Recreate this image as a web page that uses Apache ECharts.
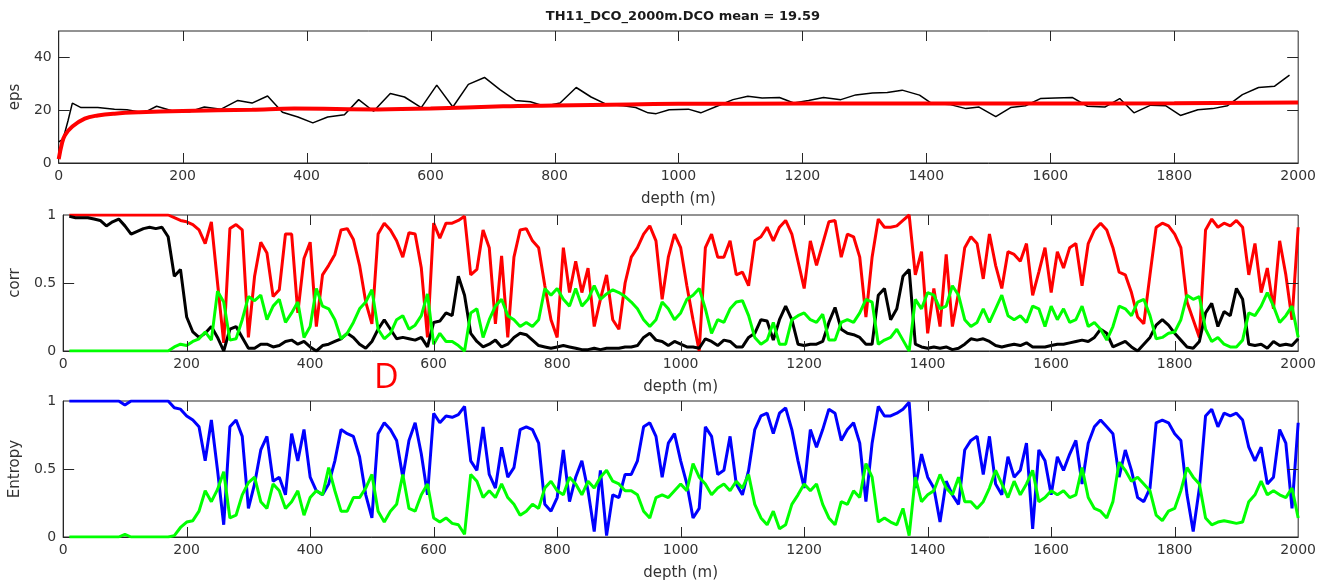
<!DOCTYPE html>
<html>
<head>
<meta charset="utf-8">
<script src="https://cdn.jsdelivr.net/npm/echarts@6/dist/echarts.min.js"></script>
<style>
  html, body { margin: 0; padding: 0; background: #fff; }
  #chart { width: 1319px; height: 587px; }
</style>
</head>
<body>
<div id="chart"></div>
<script>
// eps panel: raw values (black) and running mean (red)
const epsDepth = [0, 7, 15, 22, 36, 63, 90, 110, 137, 158, 184, 211, 235, 262, 289, 312, 337, 361, 386, 410,
  434, 461, 484, 508, 535, 558, 585, 610, 636, 661, 687, 712, 737, 761, 784, 809, 835, 859, 884, 911,
  931, 951, 964, 985, 1016, 1036, 1064, 1088, 1112, 1135, 1163, 1186, 1210, 1234, 1262, 1286, 1313, 1337, 1361, 1389,
  1409, 1437, 1464, 1485, 1512, 1536, 1560, 1584, 1608, 1636, 1660, 1688, 1712, 1735, 1762, 1786, 1810, 1838, 1862, 1886,
  1910, 1936, 1962, 1986];
const epsVal = [8, 9, 16, 22.7, 21, 21, 20.4, 20.2, 19, 21.5, 19.7, 19.4, 21.2, 20.4, 23.7, 22.7, 25.4, 19.2, 17.4, 15.2,
  17.4, 18.3, 24, 19.6, 26.3, 25, 21, 29.5, 21.2, 29.8, 32.4, 27.8, 23.7, 23.2, 21.5, 22.7, 28.6, 25, 22.2, 21.7,
  21, 19, 18.7, 20.2, 20.4, 19, 21.7, 24, 25.3, 24.6, 24.8, 22.7, 23.7, 24.8, 24, 25.8, 26.5, 26.7, 27.6, 25.7,
  22.5, 22.2, 20.6, 21.2, 17.6, 21, 21.7, 24.4, 24.6, 24.8, 21.5, 21.2, 24.4, 19, 21.9, 21.7, 18, 20.2, 20.6, 21.7,
  25.9, 28.6, 29.1, 33.3];
const epsMeanDepth = [0, 5, 10, 22, 42, 63, 90, 130, 200, 312, 380, 515, 600, 717, 800, 920, 1000, 1200, 1400, 1600, 1800, 2000];
const epsMeanVal = [1.5, 7.2, 10.5, 13.8, 16.8, 18, 18.7, 19.2, 19.7, 20.2, 20.6, 20.3, 20.6, 21.5, 21.8, 22.2, 22.4, 22.5, 22.5, 22.5, 22.6, 22.9];

// corr / entropy panels are sampled every 10 m, from 10 m to 2000 m (one row = 100 m)
const corrRed = [
  1, 1, 1, 1, 1, 1, 1, 1, 1, 1,
  1, 1, 1, 1, 1, 1, 1, 0.98, 0.96, 0.95,
  0.93, 0.89, 0.79, 0.95, 0.5, 0.06, 0.9, 0.93, 0.89, 0.1,
  0.55, 0.8, 0.72, 0.4, 0.45, 0.86, 0.86, 0.28, 0.68, 0.8,
  0.18, 0.56, 0.63, 0.71, 0.89, 0.9, 0.82, 0.63, 0.36, 0.2,
  0.86, 0.94, 0.89, 0.81, 0.69, 0.87, 0.86, 0.61, 0.1, 0.94,
  0.83, 0.94, 0.94, 0.96, 0.99, 0.56, 0.6, 0.89, 0.76, 0.2,
  0.7, 0.1, 0.69, 0.89, 0.9, 0.81, 0.76, 0.48, 0.23, 0.1,
  0.76, 0.43, 0.66, 0.43, 0.61, 0.18, 0.38, 0.56, 0.23, 0.16,
  0.5, 0.69, 0.76, 0.86, 0.92, 0.81, 0.38, 0.69, 0.86, 0.76,
  0.48, 0.23, 0.0, 0.76, 0.86, 0.69, 0.69, 0.81, 0.56, 0.58,
  0.48, 0.81, 0.84, 0.91, 0.81, 0.91, 0.96, 0.86, 0.66, 0.46,
  0.81, 0.63, 0.79, 0.95, 0.96, 0.69, 0.86, 0.84, 0.69, 0.25,
  0.69, 0.97, 0.91, 0.91, 0.92, 0.96, 1.0, 0.56, 0.73, 0.13,
  0.46, 0.18, 0.71, 0.18, 0.43, 0.76, 0.84, 0.79, 0.53, 0.86,
  0.63, 0.46, 0.73, 0.71, 0.66, 0.79, 0.41, 0.58, 0.76, 0.43,
  0.73, 0.61, 0.76, 0.79, 0.48, 0.79, 0.89, 0.94, 0.89, 0.76,
  0.58, 0.56, 0.43, 0.25, 0.2, 0.56, 0.91, 0.94, 0.92, 0.86,
  0.76, 0.36, 0.23, 0.1, 0.89, 0.97, 0.91, 0.94, 0.92, 0.96,
  0.91, 0.56, 0.79, 0.43, 0.61, 0.31, 0.81, 0.56, 0.23, 0.91
];
const corrBlack = [
  0.99, 0.98, 0.98, 0.98, 0.97, 0.96, 0.92, 0.95, 0.97, 0.92,
  0.86, 0.88, 0.9, 0.91, 0.9, 0.91, 0.84, 0.55, 0.6, 0.25,
  0.14, 0.1, 0.13, 0.18, 0.1, 0.0, 0.16, 0.18, 0.1, 0.02,
  0.02, 0.05, 0.05, 0.03, 0.04, 0.07, 0.08, 0.05, 0.07, 0.03,
  0.0, 0.04, 0.05, 0.07, 0.09, 0.13, 0.1, 0.05, 0.02, 0.07,
  0.16, 0.23, 0.16, 0.09, 0.1, 0.09, 0.08, 0.1, 0.03, 0.21,
  0.22, 0.28, 0.26, 0.55, 0.41, 0.13, 0.07, 0.03, 0.05, 0.08,
  0.03, 0.05, 0.1, 0.13, 0.12, 0.08, 0.04, 0.03, 0.02, 0.03,
  0.04, 0.03, 0.02, 0.01, 0.01, 0.02, 0.01, 0.02, 0.02, 0.02,
  0.03, 0.03, 0.04, 0.1, 0.13, 0.08, 0.07, 0.04, 0.07, 0.05,
  0.03, 0.03, 0.02, 0.09, 0.07, 0.04, 0.08, 0.07, 0.03, 0.03,
  0.1, 0.13, 0.23, 0.22, 0.08, 0.23, 0.33, 0.23, 0.05, 0.04,
  0.05, 0.05, 0.07, 0.21, 0.32, 0.16, 0.13, 0.12, 0.1, 0.05,
  0.05, 0.41, 0.46, 0.23, 0.31, 0.55, 0.6, 0.05, 0.03, 0.02,
  0.03, 0.02, 0.03, 0.01, 0.02, 0.05, 0.09, 0.08, 0.09, 0.07,
  0.04, 0.03, 0.04, 0.05, 0.04, 0.06, 0.03, 0.03, 0.03, 0.04,
  0.05, 0.05, 0.06, 0.07, 0.08, 0.07, 0.1, 0.16, 0.13, 0.03,
  0.05, 0.07, 0.03, 0.0, 0.05, 0.1, 0.19, 0.23, 0.19, 0.13,
  0.08, 0.03, 0.02, 0.07, 0.28, 0.35, 0.18, 0.29, 0.26, 0.46,
  0.38, 0.05, 0.04, 0.05, 0.02, 0.07, 0.04, 0.05, 0.04, 0.09
];
const corrGreen = [
  0, 0, 0, 0, 0, 0, 0, 0, 0, 0,
  0, 0, 0, 0, 0, 0, 0, 0.03, 0.05, 0.04,
  0.07, 0.09, 0.14, 0.08, 0.44, 0.36, 0.08, 0.09, 0.23, 0.4,
  0.37, 0.41, 0.23, 0.33, 0.38, 0.21, 0.28, 0.36, 0.1, 0.18,
  0.46, 0.33, 0.31, 0.23, 0.09, 0.13, 0.21, 0.31, 0.36, 0.45,
  0.16, 0.09, 0.13, 0.23, 0.26, 0.16, 0.19, 0.26, 0.42, 0.05,
  0.13, 0.07, 0.07, 0.04, 0.0, 0.28, 0.31, 0.1, 0.23, 0.33,
  0.38, 0.26, 0.23, 0.18, 0.21, 0.18, 0.23, 0.46, 0.41, 0.46,
  0.38, 0.33, 0.46, 0.33, 0.38, 0.48, 0.38, 0.42, 0.45, 0.43,
  0.4, 0.36, 0.31, 0.23, 0.18, 0.23, 0.36, 0.31, 0.23, 0.28,
  0.38, 0.41, 0.46, 0.31, 0.13, 0.23, 0.21, 0.31, 0.36, 0.37,
  0.26, 0.1, 0.05, 0.08, 0.21, 0.05, 0.05, 0.23, 0.26, 0.28,
  0.23, 0.21, 0.27, 0.08, 0.08, 0.21, 0.23, 0.21, 0.28, 0.38,
  0.36, 0.05, 0.08, 0.1, 0.16, 0.08, 0.0, 0.38, 0.31, 0.43,
  0.41, 0.31, 0.33, 0.48, 0.41, 0.23, 0.18, 0.21, 0.31, 0.21,
  0.31, 0.41, 0.26, 0.23, 0.26, 0.21, 0.33, 0.31, 0.18, 0.33,
  0.23, 0.31, 0.21, 0.23, 0.33, 0.18, 0.21, 0.16, 0.08, 0.18,
  0.33, 0.31, 0.26, 0.36, 0.38, 0.26, 0.09, 0.1, 0.13, 0.14,
  0.23, 0.41, 0.38, 0.4, 0.16, 0.07, 0.1, 0.05, 0.03, 0.03,
  0.08, 0.28, 0.26, 0.33, 0.43, 0.33, 0.21, 0.26, 0.33, 0.1
];
const entBlue = [
  1, 1, 1, 1, 1, 1, 1, 1, 1, 0.97,
  1, 1, 1, 1, 1, 1, 1, 0.95, 0.94, 0.89,
  0.86, 0.81, 0.56, 0.86, 0.49, 0.09, 0.81, 0.86, 0.74, 0.21,
  0.39, 0.64, 0.74, 0.41, 0.44, 0.31, 0.76, 0.56, 0.79, 0.44,
  0.34, 0.31, 0.39, 0.56, 0.79, 0.76, 0.74, 0.59, 0.31, 0.14,
  0.76, 0.84, 0.79, 0.71, 0.44, 0.71, 0.84, 0.61, 0.31, 0.91,
  0.84, 0.89, 0.88, 0.9, 0.96, 0.56, 0.49, 0.81, 0.46, 0.36,
  0.66, 0.44, 0.51, 0.79, 0.81, 0.79, 0.69, 0.24, 0.19, 0.29,
  0.64, 0.26, 0.44, 0.56, 0.34, 0.04, 0.49, 0.01, 0.31, 0.29,
  0.46, 0.46, 0.56, 0.81, 0.84, 0.74, 0.44, 0.69, 0.76, 0.56,
  0.39, 0.14, 0.21, 0.81, 0.74, 0.46, 0.49, 0.74, 0.39, 0.31,
  0.49, 0.79, 0.89, 0.91, 0.76, 0.91, 0.95, 0.79, 0.56, 0.36,
  0.79, 0.66, 0.79, 0.94, 0.91, 0.71, 0.79, 0.84, 0.69, 0.26,
  0.69, 0.96, 0.89, 0.89, 0.91, 0.94, 0.99, 0.36, 0.61, 0.44,
  0.36, 0.11, 0.41, 0.31, 0.24, 0.64, 0.71, 0.74, 0.46, 0.74,
  0.39, 0.31, 0.59, 0.44, 0.49, 0.69, 0.06, 0.64, 0.56, 0.31,
  0.59, 0.49, 0.61, 0.71, 0.39, 0.69, 0.81, 0.86, 0.81, 0.76,
  0.44, 0.64, 0.49, 0.29, 0.26, 0.36, 0.84, 0.86, 0.84, 0.76,
  0.71, 0.31, 0.04, 0.36, 0.89, 0.94, 0.81, 0.91, 0.89, 0.91,
  0.86, 0.66, 0.56, 0.66, 0.39, 0.44, 0.79, 0.69, 0.21, 0.84
];
const entGreen = [
  0, 0, 0, 0, 0, 0, 0, 0, 0, 0.02,
  0, 0, 0, 0, 0, 0, 0, 0.01, 0.07, 0.11,
  0.12, 0.19, 0.34, 0.26, 0.35, 0.48, 0.14, 0.16, 0.31, 0.4,
  0.44, 0.26, 0.21, 0.39, 0.34, 0.21, 0.26, 0.34, 0.16, 0.29,
  0.34, 0.31, 0.51, 0.34, 0.19, 0.19, 0.29, 0.29, 0.36, 0.46,
  0.19, 0.11, 0.19, 0.24, 0.46, 0.21, 0.19, 0.31, 0.39, 0.14,
  0.11, 0.14, 0.1, 0.09, 0.02, 0.46, 0.41, 0.29, 0.34, 0.29,
  0.39, 0.29, 0.24, 0.16, 0.19, 0.24, 0.21, 0.36, 0.41, 0.34,
  0.31, 0.44, 0.39, 0.31, 0.41, 0.36, 0.44, 0.49, 0.41, 0.39,
  0.34, 0.34, 0.31, 0.19, 0.14, 0.29, 0.31, 0.29, 0.34, 0.39,
  0.34, 0.54, 0.44, 0.39, 0.31, 0.36, 0.39, 0.34, 0.41, 0.36,
  0.46, 0.24, 0.14, 0.09, 0.19, 0.06, 0.09, 0.24, 0.31, 0.39,
  0.34, 0.39, 0.24, 0.14, 0.09, 0.26, 0.24, 0.34, 0.29, 0.54,
  0.44, 0.11, 0.14, 0.11, 0.09, 0.21, 0.01, 0.44, 0.26, 0.31,
  0.34, 0.46, 0.36, 0.31, 0.44, 0.26, 0.26, 0.21, 0.26, 0.36,
  0.49, 0.39, 0.29, 0.41, 0.31, 0.39, 0.49, 0.26, 0.29, 0.34,
  0.31, 0.34, 0.29, 0.31, 0.51, 0.29, 0.21, 0.19, 0.14, 0.26,
  0.55, 0.49, 0.41, 0.44, 0.39, 0.34, 0.16, 0.12, 0.19, 0.21,
  0.34, 0.51, 0.44, 0.39, 0.14, 0.09, 0.11, 0.12, 0.11, 0.1,
  0.11, 0.26, 0.31, 0.41, 0.31, 0.34, 0.31, 0.29, 0.36, 0.14
];

// tick positions (MATLAB style: ticks point inward on all four sides)
const xTicks = [200, 400, 600, 800, 1000, 1200, 1400, 1600, 1800];
const epsTicks = [20, 40];
const unitTicks = [0.5];

const sampleDepth = corrRed.map((_, i) => 10 * (i + 1));
const zip = (xs, ys) => xs.map((x, i) => [x, ys[i]]);

const FONT = "DejaVu Sans";
const AXIS_COLOR = "#262626";
const TEXT_COLOR = "#333";
const plain = (v) => String(v);

function xAxis(grid) {
  return {
    type: "value",
    gridIndex: grid,
    min: 0,
    max: 2000,
    interval: 200,
    splitLine: { show: false },
    axisLine: { show: true, onZero: false, lineStyle: { color: AXIS_COLOR, width: 1 } },
    axisTick: { show: false },
    axisLabel: { color: TEXT_COLOR, fontSize: 14, fontFamily: FONT, margin: 6, formatter: plain },
    name: "depth (m)",
    nameLocation: "middle",
    nameGap: 29,
    nameTextStyle: { color: TEXT_COLOR, fontSize: 15, fontFamily: FONT },
  };
}

function yAxis(grid, name, max, step) {
  return {
    type: "value",
    gridIndex: grid,
    min: 0,
    max: max,
    interval: step,
    splitLine: { show: false },
    axisLine: { show: true, onZero: false, lineStyle: { color: AXIS_COLOR, width: 1 } },
    axisTick: { show: false },
    axisLabel: { color: TEXT_COLOR, fontSize: 14, fontFamily: FONT, margin: 7, showMaxLabel: max === 1, formatter: plain },
    name: name,
    nameLocation: "middle",
    nameGap: 32,
    nameTextStyle: { color: TEXT_COLOR, fontSize: 15, fontFamily: FONT },
  };
}

function line(name, data, color, width, idx, smooth) {
  return {
    name: name,
    type: "line",
    xAxisIndex: idx,
    yAxisIndex: idx,
    data: data,
    showSymbol: false,
    smooth: smooth || false,
    lineStyle: { color: color, width: width },
    itemStyle: { color: color },
  };
}

const chart = echarts.init(document.getElementById("chart"));

const label = {
  type: "text",
  left: 374,
  top: 361,
  style: { text: "D", fill: "#ff0000", fontSize: 34, fontFamily: "Open Sans" },
};

chart.setOption({
  animation: false,
  title: {
    text: "TH11_DCO_2000m.DCO mean = 19.59",
    left: 678,
    top: 5,
    textAlign: "center",
    textStyle: { fontSize: 13, fontWeight: "bold", color: "#1a1a1a", fontFamily: FONT },
  },
  grid: [
    { left: 57, right: 19, top: 31, height: 132, show: true, borderColor: AXIS_COLOR, borderWidth: 1 },
    { left: 57, right: 19, top: 215, height: 136, show: true, borderColor: AXIS_COLOR, borderWidth: 1 },
    { left: 57, right: 19, top: 401, height: 136, show: true, borderColor: AXIS_COLOR, borderWidth: 1 },
  ],
  xAxis: [xAxis(0), xAxis(1), xAxis(2)],
  yAxis: [
    yAxis(0, "eps", 50, 20),
    yAxis(1, "corr", 1, 0.5),
    yAxis(2, "Entropy", 1, 0.5),
  ],
  graphic: [label],
  series: [
    line("eps", zip(epsDepth, epsVal), "#000000", 1.5, 0),
    line("eps mean", zip(epsMeanDepth, epsMeanVal), "#ff0000", 4, 0, 0.4),
    line("corr red", zip(sampleDepth, corrRed), "#ff0000", 3, 1),
    line("corr black", zip(sampleDepth, corrBlack), "#000000", 3, 1),
    line("corr green", zip(sampleDepth, corrGreen), "#00ff00", 3, 1),
    line("entropy blue", zip(sampleDepth, entBlue), "#0000ff", 3, 2),
    line("entropy green", zip(sampleDepth, entGreen), "#00ff00", 3, 2),
  ],
});

// inward ticks on all four sides, placed through the grid's own scales
function tickLines(gridIndex, yMax, yTicks) {
  const els = [];
  const seg = (x1, y1, x2, y2) => ({
    type: "line",
    silent: true,
    z: 100,
    shape: { x1: x1, y1: y1, x2: x2, y2: y2 },
    style: { stroke: AXIS_COLOR, lineWidth: 1 },
  });
  xTicks.forEach((t) => {
    const bottom = chart.convertToPixel({ gridIndex: gridIndex }, [t, 0]);
    const top = chart.convertToPixel({ gridIndex: gridIndex }, [t, yMax]);
    const x = Math.round(bottom[0]) + 0.5;
    els.push(seg(x, bottom[1], x, bottom[1] - 10));
    els.push(seg(x, top[1], x, top[1] + 10));
  });
  yTicks.forEach((t) => {
    const left = chart.convertToPixel({ gridIndex: gridIndex }, [0, t]);
    const right = chart.convertToPixel({ gridIndex: gridIndex }, [2000, t]);
    const y = Math.round(left[1]) + 0.5;
    els.push(seg(left[0], y, left[0] + 11, y));
    els.push(seg(right[0], y, right[0] - 11, y));
  });
  return els;
}

chart.setOption({
  graphic: [
    label,
    ...tickLines(0, 50, epsTicks),
    ...tickLines(1, 1, unitTicks),
    ...tickLines(2, 1, unitTicks),
  ],
});
</script>
</body>
</html>
